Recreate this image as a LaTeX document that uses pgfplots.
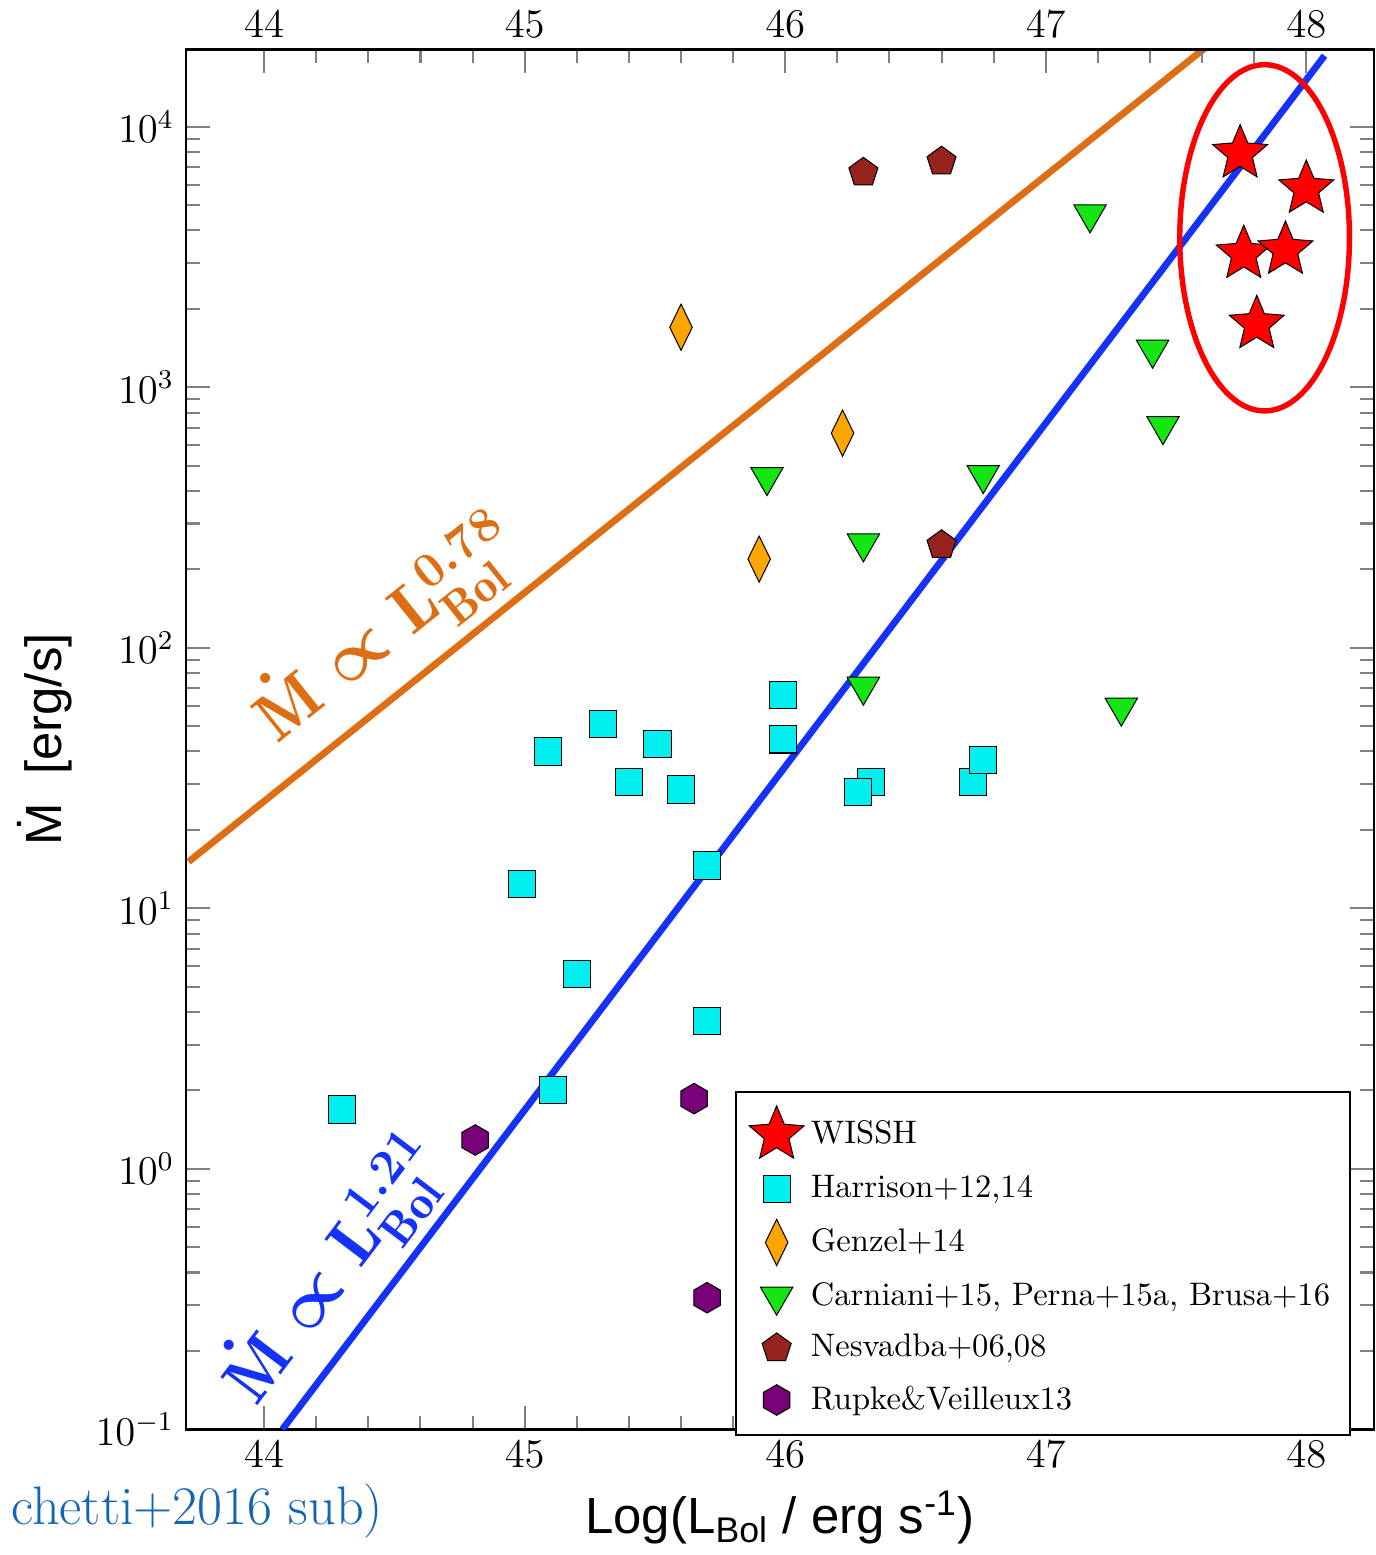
\documentclass[border=0pt]{standalone}
\usepackage{fontspec}
\setsansfont{Liberation Sans}
\usepackage{pgfplots}
\pgfplotsset{compat=1.18}
\usetikzlibrary{shapes.geometric}
\definecolor{orl}{RGB}{222,110,20}
\definecolor{bll}{RGB}{20,50,250}
\definecolor{cy}{RGB}{0,240,240}
\definecolor{gz}{RGB}{255,165,0}
\definecolor{gr}{RGB}{20,230,20}
\definecolor{nv}{RGB}{150,35,30}
\definecolor{rp}{RGB}{120,0,120}
\definecolor{slide}{RGB}{20,100,180}
\pgfdeclareplotmark{fstar}{\pgfpathmoveto{\pgfqpointpolar{90}{\pgfplotmarksize}}%
 \pgfpathlineto{\pgfqpointpolar{126}{0.45\pgfplotmarksize}}\pgfpathlineto{\pgfqpointpolar{162}{\pgfplotmarksize}}%
 \pgfpathlineto{\pgfqpointpolar{198}{0.45\pgfplotmarksize}}\pgfpathlineto{\pgfqpointpolar{234}{\pgfplotmarksize}}%
 \pgfpathlineto{\pgfqpointpolar{270}{0.45\pgfplotmarksize}}\pgfpathlineto{\pgfqpointpolar{306}{\pgfplotmarksize}}%
 \pgfpathlineto{\pgfqpointpolar{342}{0.45\pgfplotmarksize}}\pgfpathlineto{\pgfqpointpolar{18}{\pgfplotmarksize}}%
 \pgfpathlineto{\pgfqpointpolar{54}{0.45\pgfplotmarksize}}\pgfpathclose\pgfusepathqfillstroke}
\pgfdeclareplotmark{hexa}{\pgfpathmoveto{\pgfqpointpolar{90}{\pgfplotmarksize}}%
 \pgfpathlineto{\pgfqpointpolar{150}{\pgfplotmarksize}}\pgfpathlineto{\pgfqpointpolar{210}{\pgfplotmarksize}}%
 \pgfpathlineto{\pgfqpointpolar{270}{\pgfplotmarksize}}\pgfpathlineto{\pgfqpointpolar{330}{\pgfplotmarksize}}%
 \pgfpathlineto{\pgfqpointpolar{30}{\pgfplotmarksize}}\pgfpathclose\pgfusepathqfillstroke}
\begin{document}
\begin{tikzpicture}
\pgfplotsset{every axis/.style={
  width=350pt, height=406.5pt, scale only axis,
  xmin=43.70, xmax=48.26, ymode=log, ymin=0.1, ymax=19800,
  xtick={44,45,46,47,48}, minor x tick num=4,
  tick align=inside, major tick length=7pt, minor tick length=4pt,
  tick label style={font=\fontsize{12}{14}\selectfont},
  axis line style={line width=0.8pt}, tick style={line width=0.6pt}}}
\begin{axis}[
  xlabel={\sffamily\fontsize{15}{17}\selectfont Log(L\textsubscript{Bol} / erg s\textsuperscript{-1})},
  ylabel={\sffamily\fontsize{15}{17}\selectfont \.M\ \ [erg/s]},
  ytick={0.1,1,10,100,1000,10000},
  legend style={at={(0.981,0.245)}, anchor=north east, font=\fontsize{9.6}{11.5}\selectfont,
    draw=black, line width=0.6pt, row sep=3pt, inner sep=4pt, cells={anchor=west}},
  legend cell align=left,
]
\addplot[only marks, mark=fstar, mark size=8.5pt, mark options={fill=red, draw=black, line width=0.3pt}]
 coordinates {(47.746,7900)(48.0,5780)(47.76,3250)(47.92,3370)(47.81,1747)};
\addlegendentry{WISSH}
\addplot[only marks, mark=square*, mark size=4pt, mark options={fill=cy, draw=black, line width=0.3pt}]
 coordinates {(44.30,1.69)(44.99,12.4)(45.09,40)(45.30,51)(45.40,30.5)(45.51,42.6)(45.60,28.6)(45.20,5.6)(45.11,2.0)(45.70,14.6)(45.70,3.7)(45.99,66)(45.99,44.5)(46.33,30.5)(46.28,27.9)(46.72,30.5)(46.76,37.2)};
\addlegendentry{Harrison+12,14}
\addplot[only marks, mark=diamond*, mark size=6.8pt, mark options={fill=gz, draw=black, line width=0.3pt, xscale=0.65}]
 coordinates {(45.60,1700)(46.22,667)(45.90,219)};
\addlegendentry{Genzel+14}
\addplot[only marks, mark=triangle*, mark size=5.5pt, mark options={fill=gr, draw=black, line width=0.3pt, rotate=180}]
 coordinates {(47.17,4617)(47.41,1396)(47.45,711)(45.93,453)(46.76,461)(46.30,252)(46.30,71)(47.29,59)};
\addlegendentry{Carniani+15, Perna+15a, Brusa+16}
\addplot[only marks, mark=pentagon*, mark size=4.5pt, mark options={fill=nv, draw=black, line width=0.3pt}]
 coordinates {(46.30,6670)(46.60,7360)(46.60,248)};
\addlegendentry{Nesvadba+06,08}
\addplot[only marks, mark=hexa, mark size=4.5pt, mark options={fill=rp, draw=black, line width=0.3pt}]
 coordinates {(44.81,1.29)(45.65,1.86)(45.70,0.32)};
\addlegendentry{Rupke\&Veilleux13}
\addplot[orl, line width=2pt, forget plot] coordinates {(43.71,15.1)(47.62,20400)};
\addplot[bll, line width=2pt, forget plot] coordinates {(44.07,0.1)(48.07,18750)};
\draw[red, line width=1.6pt] (axis cs:47.84,3750) ellipse [x radius=25pt, y radius=51pt];
\node[orl, rotate=38.7, font=\fontsize{20}{22}\selectfont\boldmath] at (axis cs:44.47,117) {$\dot{\mathrm{M}}\propto\mathrm{L}_{\mathrm{Bol}}^{0.78}$};
\node[bll, rotate=52.8, font=\fontsize{20}{22}\selectfont\boldmath] at (axis cs:44.27,0.41) {$\dot{\mathrm{M}}\propto\mathrm{L}_{\mathrm{Bol}}^{1.21}$};
\end{axis}
\begin{axis}[xticklabel pos=upper, ytick=\empty, axis y line=none, axis x line*=top]
\addplot[draw=none] coordinates {(44,1)};
\end{axis}
\node[slide, anchor=west, font=\fontsize{16}{18}\selectfont] at (-55pt,-24pt) {chetti+2016 sub)};
\end{tikzpicture}
\end{document}
